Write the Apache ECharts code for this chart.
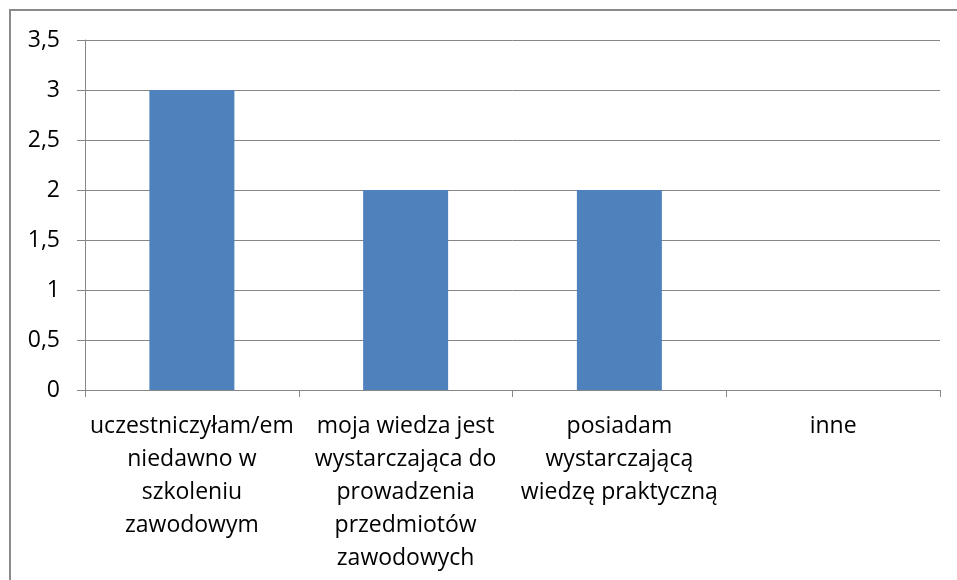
<!DOCTYPE html>
<html><head><meta charset="utf-8">
<script src="https://cdn.jsdelivr.net/npm/echarts@6/dist/echarts.min.js"></script>
<style>html,body{margin:0;padding:0;background:#fff}#c{width:957px;height:580px}</style>
</head><body><div id="c"></div>
<script>
const categories = ["uczestniczyłam/em\nniedawno w\nszkoleniu\nzawodowym", "moja wiedza jest\nwystarczająca do\nprowadzenia\nprzedmiotów\nzawodowych", "posiadam\nwystarczającą\nwiedzę praktyczną", "inne"];
const values = [3, 2, 2, 0];
const yTicks = {min: 0, max: 3.5, interval: 0.5};
const chart = echarts.init(document.getElementById('c'), null, {renderer: 'canvas'});
const font = '"Open Sans", sans-serif';
chart.setOption({
  animation: false,
  graphic: [{type: 'rect', shape: {x: 10, y: 10, width: 1000, height: 1000}, style: {fill: 'none', stroke: '#8a8a8a', lineWidth: 2}}],
  grid: {left: 85, right: 17, top: 40, bottom: 190, containLabel: false},
  xAxis: {
    type: 'category', data: categories,
    axisLine: {lineStyle: {color: '#868686', width: 1}},
    axisTick: {show: true, length: 7, alignWithLabel: false, lineStyle: {color: '#868686'}},
    axisLabel: {interval: 0, color: '#000', fontFamily: font, fontSize: 23, lineHeight: 33, margin: 20}
  },
  yAxis: {
    type: 'value', min: yTicks.min, max: yTicks.max, interval: yTicks.interval,
    axisLine: {show: true, lineStyle: {color: '#868686', width: 1}},
    axisTick: {show: true, length: 8, lineStyle: {color: '#868686'}},
    splitLine: {lineStyle: {color: '#868686', width: 1}},
    axisLabel: {color: '#000', fontFamily: font, fontSize: 23, margin: 25, formatter: v => String(v).replace('.', ',')}
  },
  series: [{type: 'bar', data: values, barWidth: 85, itemStyle: {color: '#4f81bd'}}]
});
</script></body></html>
